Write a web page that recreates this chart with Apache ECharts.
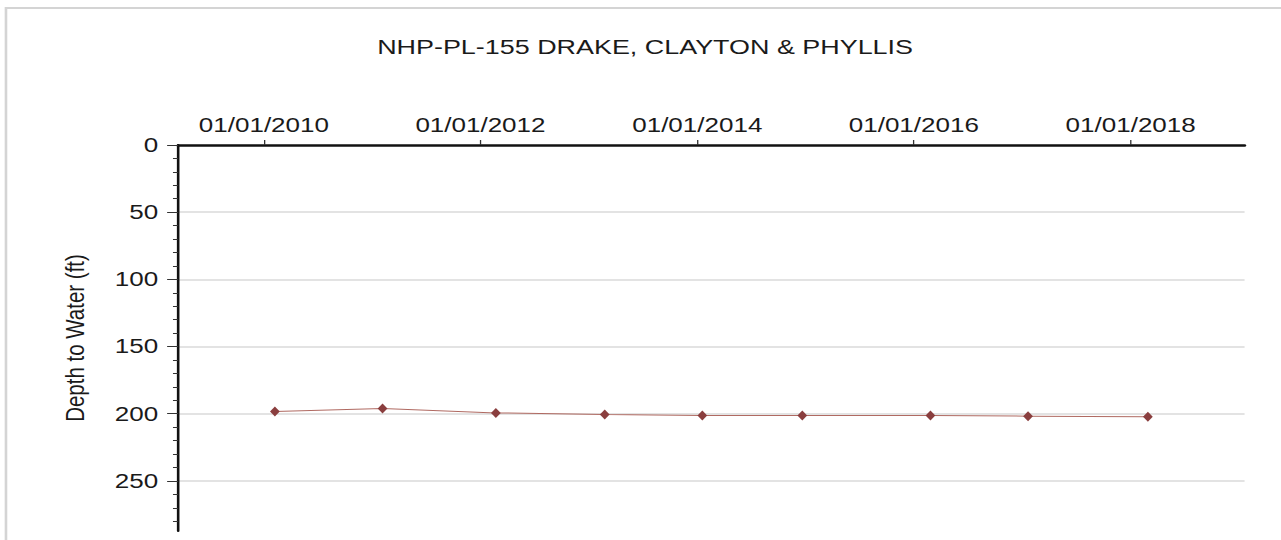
<!DOCTYPE html>
<html>
<head>
<meta charset="utf-8">
<script src="https://cdn.jsdelivr.net/npm/echarts@6/dist/echarts.min.js"></script>
<style>
  html, body { margin: 0; padding: 0; background: #fff; overflow: hidden; width: 1281px; height: 540px; }
  #chart { width: 985px; height: 540px; transform: scaleX(1.300508); transform-origin: 0 0; }
</style>
</head>
<body>
<div id="chart"></div>
<script>
// ---- data ----
const chartTitle = 'NHP-PL-155 DRAKE, CLAYTON & PHYLLIS';
const yAxisName = 'Depth to Water (ft)';
const sampleDates = ['2010-02-07', '2011-02-05', '2012-02-22', '2013-02-23', '2014-01-18', '2014-12-21', '2016-02-26', '2017-01-20', '2018-02-28'];
const depthValues = [198.3, 196.1, 199.4, 200.6, 201.3, 201.4, 201.4, 201.8, 202.3];
const xTickDates = ['2010-01-01', '2012-01-01', '2014-01-01', '2016-01-01', '2018-01-01'];
const xRange = ['2009-03-18', '2019-01-20'];
const yTickValues = [0, 50, 100, 150, 200, 250];
const yMinorTickValues = [10, 20, 30, 40, 60, 70, 80, 90, 110, 120, 130, 140, 160, 170, 180, 190, 210, 220, 230, 240, 260, 270, 280];
const yRange = [0, 287.3];

// ---- helpers ----
const ts = s => new Date(s + 'T00:00:00Z').getTime();
const pad = n => (n < 10 ? '0' : '') + n;
const fmtDate = v => {
  const d = new Date(v);
  return pad(d.getUTCMonth() + 1) + '/' + pad(d.getUTCDate()) + '/' + d.getUTCFullYear();
};
const FONT = '"Liberation Sans", Arial, Helvetica, sans-serif';
const seriesData = sampleDates.map((d, i) => [ts(d), depthValues[i]]);
const xTicks = xTickDates.map(ts);

const chart = echarts.init(document.getElementById('chart'), null, { renderer: 'svg' });
chart.setOption({
  animation: false,
  backgroundColor: '#ffffff',
  textStyle: { fontFamily: FONT },
  title: {
    text: chartTitle,
    left: 285,
    top: 31,
    textStyle: { fontFamily: FONT, fontSize: 20.7, fontWeight: 'normal', color: '#1a1a1a' }
  },
  graphic: [{
    type: 'rect',
    shape: { x: 4.6, y: 8, width: 2000, height: 1000 },
    style: { fill: 'none', stroke: '#d4d4d4', lineWidth: 2 },
    silent: true,
    z: -10
  }],
  grid: { left: 137, right: 28, top: 145, bottom: 9 },
  xAxis: {
    type: 'value',
    position: 'top',
    min: ts(xRange[0]),
    max: ts(xRange[1]),
    interval: 730.5 * 86400000,
    axisLine: { show: true, onZero: false, lineStyle: { color: '#111', width: 2.5 } },
    axisTick: { show: true, inside: false, length: 5, customValues: xTicks, lineStyle: { color: '#333', width: 1 } },
    axisLabel: {
      customValues: xTicks,
      formatter: v => fmtDate(v),
      margin: 10,
      fontSize: 20,
      color: '#1a1a1a',
      fontFamily: FONT,
      hideOverlap: false
    },
    splitLine: { show: false }
  },
  yAxis: [{
    type: 'value',
    inverse: true,
    position: 'left',
    min: yRange[0],
    max: yRange[1],
    interval: 50,
    name: yAxisName,
    nameLocation: 'middle',
    nameRotate: 90,
    nameGap: 69,
    nameTextStyle: { fontFamily: FONT, fontSize: 20.5, color: '#1a1a1a' },
    axisLine: { show: true, onZero: false, lineStyle: { color: '#111', width: 2 } },
    axisTick: { show: true, length: 8.5, customValues: yTickValues, lineStyle: { color: '#333', width: 1 } },
    axisLabel: {
      customValues: yTickValues,
      margin: 15.4,
      fontSize: 20,
      color: '#1a1a1a',
      fontFamily: FONT
    },
    splitLine: { show: true, showMinLine: false, showMaxLine: true, lineStyle: { color: '#dadada', width: 1.5 } }
  }, {
    type: 'value',
    inverse: true,
    position: 'left',
    min: yRange[0],
    max: yRange[1],
    interval: 10,
    axisLine: { show: false },
    axisTick: { show: true, length: 4, customValues: yMinorTickValues, lineStyle: { color: '#333', width: 1 } },
    axisLabel: { show: false },
    splitLine: { show: false }
  }],
  series: [{
    type: 'line',
    xAxisIndex: 0,
    yAxisIndex: 0,
    data: seriesData,
    symbol: 'diamond',
    symbolSize: [7.5, 10],
    showSymbol: true,
    itemStyle: { color: '#8a3e3e' },
    lineStyle: { color: '#b06a62', width: 1 },
    z: 5
  }]
});
</script>
</body>
</html>
